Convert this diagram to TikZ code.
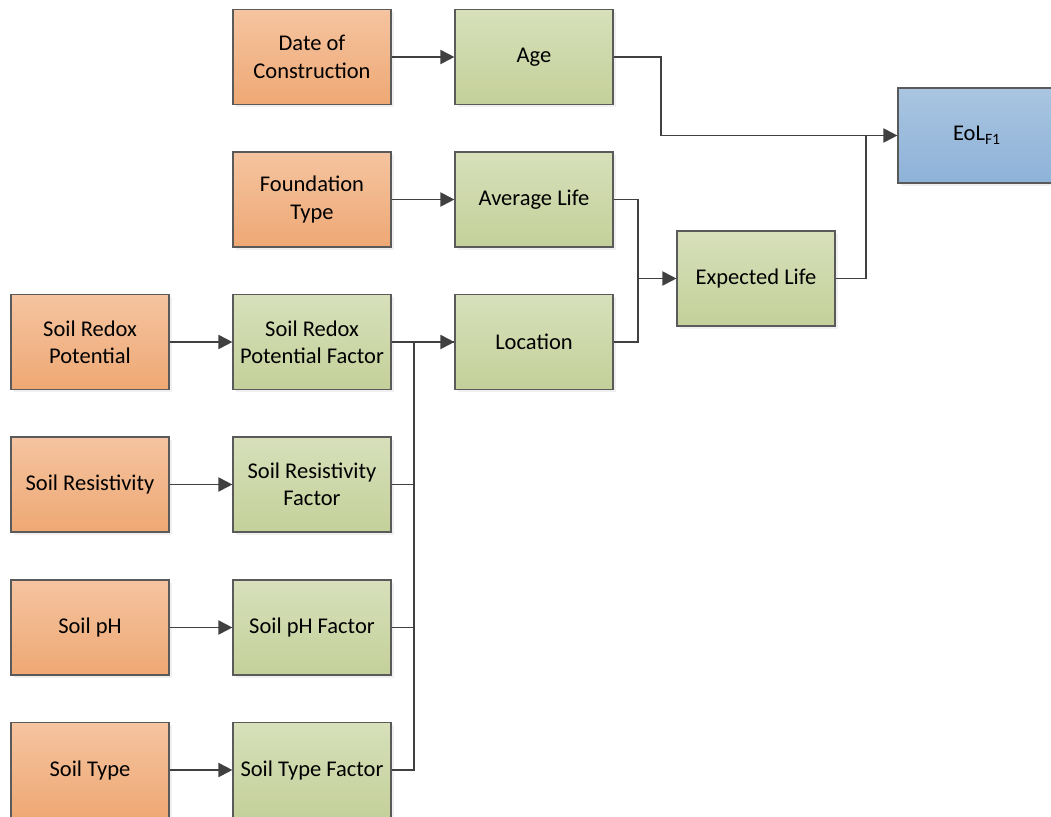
\documentclass[tikz,border=0pt]{standalone}
\usepackage{fontspec}
\setmainfont{Carlito}
\usetikzlibrary{arrows.meta,shadows}

\definecolor{orangetop}{HTML}{F5C4A0}
\definecolor{orangebot}{HTML}{EEA874}
\definecolor{greentop}{HTML}{D7E0BA}
\definecolor{greenbot}{HTML}{C4D09A}
\definecolor{bluetop}{HTML}{A9C5E1}
\definecolor{bluebot}{HTML}{8EB2D8}
\definecolor{edgegray}{HTML}{5A5A5A}
\definecolor{wiregray}{HTML}{404040}

\tikzset{
  block/.style={draw=edgegray, line width=0.8pt,
    minimum width=3.95cm, minimum height=2.375cm, align=center,
    font=\fontsize{16}{19.5}\selectfont,
    drop shadow={opacity=0.12, shadow xshift=2pt, shadow yshift=-2pt}},
  input/.style={block, top color=orangetop, bottom color=orangebot},
  factor/.style={block, top color=greentop, bottom color=greenbot},
  result/.style={block, top color=bluetop, bottom color=bluebot},
  wire/.style={draw=wiregray, line width=1.4pt},
  arr/.style={wire, -{Triangle[length=0.35cm,width=0.35cm]}}
}

\begin{document}
\begin{tikzpicture}[x=0.025cm, y=-0.025cm]
\useasboundingbox (0,0) rectangle (1051,816);
\clip (0,0) rectangle (1051,816);

% inputs
\node[input] (Date) at (312,57) {Date of\\Construction};
\node[input] (Found) at (312,199.5) {Foundation\\Type};
\node[input] (Redox) at (90,342) {Soil Redox\\Potential};
\node[input] (Resist) at (90,484.5) {Soil Resistivity};
\node[input] (PH) at (90,627.5) {Soil pH};
\node[input] (Type) at (90,770) {Soil Type};

% factors
\node[factor] (Age) at (534,57) {Age};
\node[factor] (AvgLife) at (534,199.5) {Average Life};
\node[factor] (Loc) at (534,342) {Location};
\node[factor] (RedoxF) at (312,342) {Soil Redox\\Potential Factor};
\node[factor] (ResistF) at (312,484.5) {Soil Resistivity\\Factor};
\node[factor] (PHF) at (312,627.5) {Soil pH Factor};
\node[factor] (TypeF) at (312,770) {Soil Type Factor};
\node[factor] (ExpLife) at (756,278.5) {Expected Life};

% result
\node[result] (EoL) at (977,135.5) {EoL\textsubscript{F1}};

% connectors
\draw[arr] (Date) -- (Age);
\draw[arr] (Found) -- (AvgLife);
\foreach \s/\t in {Redox/RedoxF, Resist/ResistF, PH/PHF, Type/TypeF}
  \draw[arr] (\s) -- (\t);
\foreach \t in {ResistF, PHF, TypeF}
  \draw[wire] (\t.east) -- ++(22,0) |- (Loc.west);
\draw[arr] (RedoxF) -- (Loc);
\draw[arr] (AvgLife.east) -- ++(24,0) |- (ExpLife.west);
\draw[wire] (Loc.east) -- ++(24,0) |- (ExpLife.west);
\draw[arr] (Age.east) -- ++(47,0) |- (EoL.west);
\draw[wire] (ExpLife.east) -- ++(30,0) |- (EoL.west);
\end{tikzpicture}
\end{document}
